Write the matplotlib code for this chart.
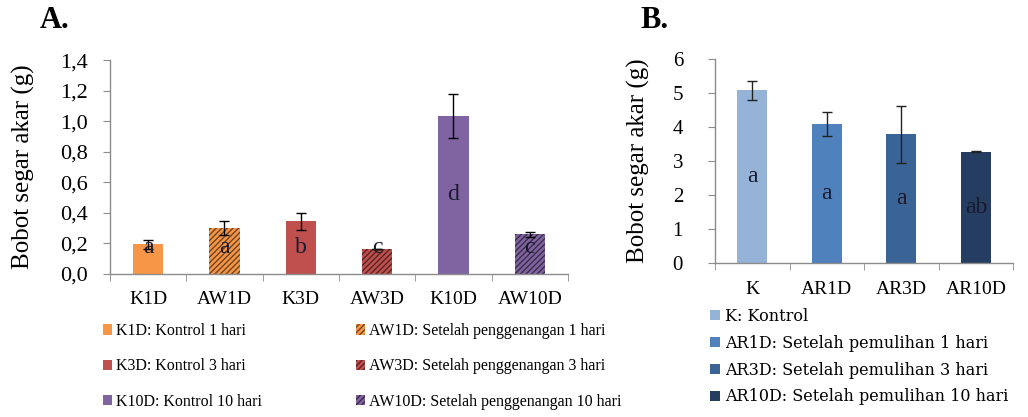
import matplotlib.pyplot as plt
from matplotlib.patches import Patch
import numpy as np

plt.rcParams['font.family'] = 'serif'
plt.rcParams['font.serif'] = ['Liberation Serif', 'DejaVu Serif']

# ---- panel A data ----
a_labels = ["K1D", "AW1D", "K3D", "AW3D", "K10D", "AW10D"]
a_values = [0.195, 0.30, 0.345, 0.163, 1.035, 0.26]
a_errors = [0.03, 0.045, 0.055, 0.0, 0.145, 0.015]
a_letters = ["a", "a", "b", "c", "d", "c"]
a_colors = ["#F79646", "#F79646", "#C0504D", "#C0504D", "#8064A2", "#8064A2"]
a_hatched = [False, True, False, True, False, True]
a_legend = ["K1D: Kontrol 1 hari", "AW1D: Setelah penggenangan 1 hari",
            "K3D: Kontrol 3 hari", "AW3D: Setelah penggenangan 3 hari",
            "K10D: Kontrol 10 hari", "AW10D: Setelah penggenangan 10 hari"]
a_yticks = [0.0, 0.2, 0.4, 0.6, 0.8, 1.0, 1.2, 1.4]

# ---- panel B data ----
b_labels = ["K", "AR1D", "AR3D", "AR10D"]
b_values = [5.08, 4.09, 3.79, 3.28]
b_errors = [0.27, 0.36, 0.84, 0.02]
b_letters = ["a", "a", "a", "ab"]
b_colors = ["#95B3D7", "#4F81BD", "#3A6496", "#253D60"]
b_legend = ["K: Kontrol", "AR1D: Setelah pemulihan 1 hari",
            "AR3D: Setelah pemulihan 3 hari", "AR10D: Setelah pemulihan 10 hari"]
b_yticks = [0, 1, 2, 3, 4, 5, 6]


def darker(hex_color, f=0.45):
    c = np.array([int(hex_color[i:i + 2], 16) for i in (1, 3, 5)]) / 255.0
    return tuple(c * f)


def style_axes(ax, n, ysize, ypad, xpad):
    for s in ["top", "right"]:
        ax.spines[s].set_visible(False)
    for s in ["left", "bottom"]:
        ax.spines[s].set_color("#8c8c8c")
        ax.spines[s].set_linewidth(1.0)
    ax.set_xlim(-0.5, n - 0.5)
    ax.set_xticks(np.arange(n))
    ax.set_xticks(np.arange(n + 1) - 0.5, minor=True)
    ax.tick_params(axis="x", which="major", length=0, pad=xpad, labelsize=14)
    ax.tick_params(axis="x", which="minor", length=5, color="#8c8c8c", direction="out")
    ax.tick_params(axis="y", length=5, color="#8c8c8c", direction="out",
                   labelsize=ysize, pad=ypad)


fig = plt.figure(figsize=(10.28, 4.17), dpi=100)

# ---------------- Panel A ----------------
axA = fig.add_axes([0.107, 0.343, 0.4455, 0.513])
xa = np.arange(len(a_labels))
for i in range(len(a_labels)):
    if a_hatched[i]:
        axA.bar(xa[i], a_values[i], width=0.4, color=a_colors[i],
                edgecolor=darker(a_colors[i]), linewidth=0, hatch="//////")
    else:
        axA.bar(xa[i], a_values[i], width=0.4, color=a_colors[i], linewidth=0)
axA.errorbar(xa, a_values, yerr=a_errors, fmt="none", ecolor="black",
             elinewidth=1, capsize=3.5, capthick=1)
for i in range(len(a_labels)):
    axA.text(xa[i], max(a_values[i] / 2, 0.175), a_letters[i], ha="center",
             va="center", fontsize=17, color="#1a1a2e")
axA.set_ylim(0, 1.4)
axA.set_yticks(a_yticks)
axA.set_yticklabels([("%.1f" % v).replace(".", ",") for v in a_yticks])
axA.set_xticklabels(a_labels)
style_axes(axA, len(a_labels), 16, 11, 12)
axA.set_ylabel("Bobot segar akar (g)", fontsize=18, labelpad=18)

# legend: left column controls, right column flooded
order = [0, 2, 4, 1, 3, 5]
handles = []
for i in order:
    if a_hatched[i]:
        handles.append(Patch(facecolor=a_colors[i], edgecolor=darker(a_colors[i]),
                             linewidth=0, hatch="//////", label=a_legend[i]))
    else:
        handles.append(Patch(facecolor=a_colors[i], linewidth=0, label=a_legend[i]))
fig.legend(handles=handles, loc="upper left", bbox_to_anchor=(0.100, 0.225),
           ncol=2, frameon=False, fontsize=11.5, handlelength=0.6, handleheight=0.6,
           handletextpad=0.2, labelspacing=1.2, columnspacing=5.9, borderaxespad=0,
           borderpad=0)

fig.text(0.039, 0.952, "A.", fontsize=22, fontweight="bold", va="center")

# ---------------- Panel B ----------------
axB = fig.add_axes([0.6955, 0.369, 0.29, 0.489])
xb = np.arange(len(b_labels))
axB.bar(xb, b_values, width=0.4, color=b_colors, linewidth=0)
axB.errorbar(xb, b_values, yerr=b_errors, fmt="none", ecolor="#222222",
             elinewidth=1, capsize=3.5, capthick=1)
for i in range(len(b_labels)):
    axB.text(xb[i], b_values[i] / 2, b_letters[i], ha="center", va="center",
             fontsize=17, color="#1a1a2e")
axB.set_ylim(0, 6)
axB.set_yticks(b_yticks)
axB.set_xticklabels(b_labels)
style_axes(axB, len(b_labels), 15, 18, 13)
axB.set_ylabel("Bobot segar akar (g)", fontsize=18, labelpad=16)

handles_b = [Patch(facecolor=c, linewidth=0, label=l) for c, l in zip(b_colors, b_legend)]
fig.legend(handles=handles_b, loc="upper left", bbox_to_anchor=(0.691, 0.262),
           frameon=False, prop={"family": "DejaVu Serif", "size": 11.5},
           handlelength=0.6, handleheight=0.6, handletextpad=0.3,
           labelspacing=0.62, borderaxespad=0, borderpad=0)

fig.text(0.623, 0.952, "B.", fontsize=22, fontweight="bold", va="center")

fig.savefig("out.png", dpi=100, facecolor="white")
